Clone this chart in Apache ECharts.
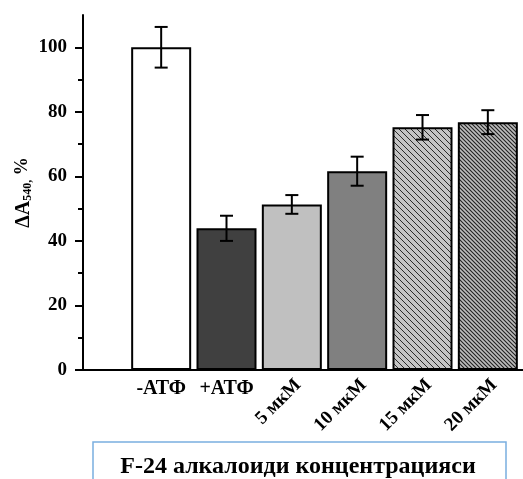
<!DOCTYPE html>
<html><head><meta charset="utf-8">
<script src="https://cdn.jsdelivr.net/npm/echarts@6/dist/echarts.min.js"></script>
<style>html,body{margin:0;padding:0;background:#fff}#c{width:523px;height:479px}</style>
</head><body><div id="c"></div>
<script>
var categories = ['-АТФ', '+АТФ', '5 мкМ', '10 мкМ', '15 мкМ', '20 мкМ'];
var values = [100, 43.9, 51.3, 61.6, 75.2, 76.8];
var errors = [6.3, 3.9, 2.9, 4.5, 3.8, 3.7];
var yTicks = [0, 20, 40, 60, 80, 100];
var yMinorTicks = [10, 30, 50, 70, 90];
var xTitle = 'F-24 алкалоиди концентрацияси';

var FONT = '"Liberation Serif", "DejaVu Serif", serif';

function hatch(size, bg, fg, lw) {
  var c = document.createElement('canvas');
  c.width = size; c.height = size;
  var g = c.getContext('2d');
  g.fillStyle = bg; g.fillRect(0, 0, size, size);
  g.strokeStyle = fg; g.lineWidth = lw;
  g.beginPath();
  g.moveTo(-1, -1); g.lineTo(size + 1, size + 1);
  g.moveTo(size - 1, -1); g.lineTo(size + 1, 1);
  g.moveTo(-1, size - 1); g.lineTo(1, size + 1);
  g.stroke();
  return {image: c, repeat: 'repeat'};
}

var fills = ['#ffffff', '#404040', '#c0c0c0', '#808080',
  hatch(6, '#c4c4c4', '#2a2a2a', 1), hatch(4, '#bdbdbd', '#222', 1.1)];

var chart = echarts.init(document.getElementById('c'), null, {renderer: 'canvas'});

var barData = values.map(function (v, i) {
  return {value: v, itemStyle: {color: fills[i]}};
});
var errData = values.map(function (v, i) { return [i, v - errors[i], v + errors[i]]; });

var rotatedIdx = {2: 1, 3: 1, 4: 1, 5: 1};

var option = {
  animation: false,
  grid: [
    {left: 83, right: 0, top: 15, bottom: 109, outerBoundsMode: 'none', containLabel: false},
    {left: 128.5, right: 2.5, top: 15, bottom: 109, outerBoundsMode: 'none', containLabel: false},
    {left: 135, right: -4, top: 15, bottom: 109, outerBoundsMode: 'none', containLabel: false}
  ],
  xAxis: [
    {gridIndex: 0, type: 'value', min: 0, max: 1, position: 'bottom',
      axisLine: {show: true, lineStyle: {color: '#000', width: 2}},
      axisTick: {show: false}, axisLabel: {show: false}, splitLine: {show: false}},
    {gridIndex: 1, type: 'category', data: categories, position: 'bottom',
      axisLine: {show: false}, axisTick: {show: false}, splitLine: {show: false},
      axisLabel: {interval: 0, margin: 9, color: '#000', fontFamily: FONT, fontWeight: 'bold', fontSize: 20,
        formatter: function (v, i) { return rotatedIdx[i] ? '' : v; }}},
    {gridIndex: 2, type: 'category', data: categories, position: 'bottom',
      axisLine: {show: false}, axisTick: {show: false}, splitLine: {show: false},
      axisLabel: {interval: 0, margin: 12, rotate: 45, color: '#000', fontFamily: FONT, fontWeight: 'bold', fontSize: 19,
        formatter: function (v, i) { return rotatedIdx[i] ? v : ''; }}}
  ],
  yAxis: [
    {gridIndex: 0, type: 'value', min: 0, max: 110, position: 'left',
      axisLine: {show: true, lineStyle: {color: '#000', width: 2}},
      axisTick: {show: true, length: 8, lineStyle: {color: '#000', width: 2}, customValues: yTicks},
      axisLabel: {color: '#000', fontFamily: FONT, fontWeight: 'bold', fontSize: 19, margin: 16, customValues: yTicks},
      splitLine: {show: false},
      name: '{a|ΔA}{sub|540,}{sup| %}', nameLocation: 'middle', nameGap: 49, nameRotate: 90,
      nameMoveOverlap: false,
      nameTextStyle: {color: '#000', fontFamily: FONT, fontWeight: 'bold', fontSize: 19,
        rich: {
          a: {fontFamily: FONT, fontWeight: 'bold', fontSize: 20, color: '#000'},
          sub: {fontFamily: FONT, fontWeight: 'bold', fontSize: 12, color: '#000', verticalAlign: 'bottom', padding: [8, 0, 0, 0]},
          sup: {fontFamily: FONT, fontWeight: 'bold', fontSize: 18, color: '#000', verticalAlign: 'bottom', padding: [0, 0, 3, 0]}
        }}},
    {gridIndex: 0, type: 'value', min: 0, max: 110, position: 'left',
      axisLine: {show: false}, axisLabel: {show: false}, splitLine: {show: false},
      axisTick: {show: true, length: 5, lineStyle: {color: '#000', width: 2}, customValues: yMinorTicks}},
    {gridIndex: 1, type: 'value', min: 0, max: 110, show: false},
    {gridIndex: 2, type: 'value', min: 0, max: 110, show: false}
  ],
  series: [
    {type: 'bar', xAxisIndex: 1, yAxisIndex: 2, data: barData, barWidth: 60,
      itemStyle: {borderColor: '#000', borderWidth: 2}, z: 2},
    {type: 'custom', xAxisIndex: 1, yAxisIndex: 2, data: errData, z: 3,
      renderItem: function (params, api) {
        var x = api.value(0);
        var lo = api.coord([x, api.value(1)]);
        var hi = api.coord([x, api.value(2)]);
        var w = 6.5;
        var st = {stroke: '#000', lineWidth: 2};
        return {type: 'group', children: [
          {type: 'line', shape: {x1: lo[0], y1: lo[1], x2: hi[0], y2: hi[1]}, style: st},
          {type: 'line', shape: {x1: lo[0] - w, y1: lo[1], x2: lo[0] + w, y2: lo[1]}, style: st},
          {type: 'line', shape: {x1: hi[0] - w, y1: hi[1], x2: hi[0] + w, y2: hi[1]}, style: st}
        ]};
      }},
    {type: 'bar', xAxisIndex: 2, yAxisIndex: 3, data: [], silent: true}
  ],
  graphic: [
    {type: 'rect', shape: {x: 93, y: 442, width: 413, height: 60},
      style: {fill: '#fff', stroke: '#7aaee0', lineWidth: 1.5}, z: 10},
    {type: 'text', x: 298, y: 467, z: 11,
      style: {text: xTitle, fill: '#000', font: 'bold 24px ' + FONT, align: 'center', verticalAlign: 'middle'}}
  ]
};
chart.setOption(option);
</script></body></html>
